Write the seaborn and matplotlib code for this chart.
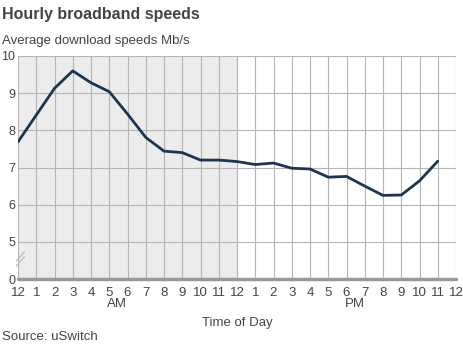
import matplotlib
matplotlib.use("Agg")
import matplotlib.pyplot as plt
import seaborn as sns
import pandas as pd

hours = list(range(24))
speeds = [7.69, 8.41, 9.13, 9.6, 9.28, 9.04, 8.44, 7.81, 7.44, 7.4, 7.2, 7.2,
          7.16, 7.08, 7.12, 6.98, 6.96, 6.74, 6.76, 6.5, 6.25, 6.26, 6.64, 7.17]
tick_labels = ["12", "1", "2", "3", "4", "5", "6", "7", "8", "9", "10", "11",
               "12", "1", "2", "3", "4", "5", "6", "7", "8", "9", "10", "11", "12"]
y_ticks = [4, 5, 6, 7, 8, 9, 10]
y_labels = ["0", "5", "6", "7", "8", "9", "10"]

sns.set_style("white")
plt.rcParams['font.family'] = ['Liberation Sans', 'DejaVu Sans']

df = pd.DataFrame({"hour": hours, "speed": speeds})

fig = plt.figure(figsize=(4.64, 3.5), dpi=100)
ax = fig.add_axes([18/464, 1-279/350, (456-18)/464, (279-56)/350])

ax.axvspan(0, 12, color="#ececec", zorder=0, lw=0)
for h in range(25):
    ax.axvline(h, color="#b5b5b5", lw=0.8, zorder=1)
for v in [5, 6, 7, 8, 9, 10]:
    ax.axhline(v, color="#b5b5b5", lw=0.8, zorder=1)

sns.lineplot(data=df, x="hour", y="speed", ax=ax, color="#1d3550", lw=2.0, zorder=3)

ax.set_xlim(0, 24)
ax.set_ylim(4, 10)
ax.axhline(4, color="#999999", lw=2.5, zorder=2, clip_on=False)
for s in ax.spines.values():
    s.set_visible(False)

ax.set_xticks(range(25))
ax.set_xticklabels(tick_labels, fontsize=9.5, color="#444444")
ax.set_yticks(y_ticks)
ax.set_yticklabels(y_labels, fontsize=9, color="#444444")
ax.tick_params(axis="both", length=0)
ax.tick_params(axis="x", pad=6)
ax.tick_params(axis="y", pad=2)
ax.set_xlabel("")
ax.set_ylabel("")

# broken-axis marks
ax.plot([-0.1, 0.35], [4.35, 4.6], color="#bbbbbb", lw=0.9, clip_on=False, zorder=4)
ax.plot([-0.1, 0.35], [4.48, 4.73], color="#bbbbbb", lw=0.9, clip_on=False, zorder=4)

fig.text(117/464, 1-304/350, "AM", ha="center", va="center", fontsize=9.5, color="#444444")
fig.text(355/464, 1-304/350, "PM", ha="center", va="center", fontsize=9.5, color="#444444")
fig.text(237/464, 1-323/350, "Time of Day", ha="center", va="center", fontsize=9.5, color="#444444")
fig.text(2/464, 1-15/350, "Hourly broadband speeds", ha="left", va="center", fontsize=11.5,
         fontweight="bold", color="#444444")
fig.text(2/464, 1-41/350, "Average download speeds Mb/s", ha="left", va="center", fontsize=9.5,
         color="#444444")
fig.text(2/464, 1-337/350, "Source: uSwitch", ha="left", va="center", fontsize=9.5, color="#444444")

fig.savefig("out.png", dpi=100)
